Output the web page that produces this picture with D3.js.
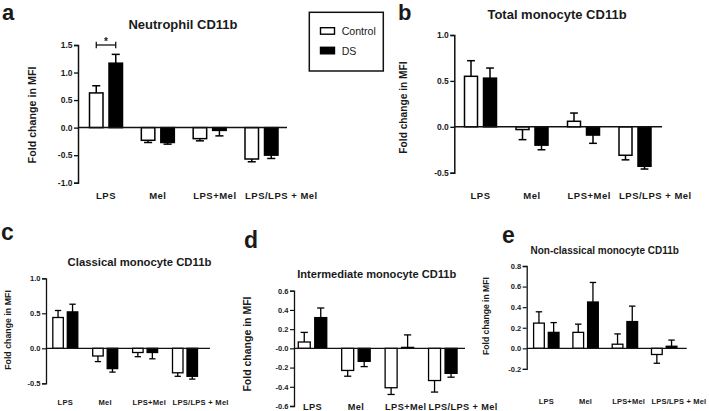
<!DOCTYPE html>
<html><head><meta charset="utf-8">
<script src="https://cdn.jsdelivr.net/npm/d3@7"></script>
<style>
body{margin:0;background:#fff}
svg{display:block}
text{font-family:"Liberation Sans",Arial,sans-serif;fill:#1a1a1a}
</style>
</head><body>
<svg id="chart" width="709" height="411"></svg>
<script>
// ---------- DATA ----------
const categories = ["LPS", "Mel", "LPS+Mel", "LPS/LPS + Mel"];
const seriesNames = ["Control", "DS"];

// a: Neutrophil CD11b
const aControl    = [0.63, -0.23, -0.20, -0.57];
const aControlErr = [0.13, 0.04, 0.04, 0.05];
const aDS         = [1.17, -0.27, -0.05, -0.50];
const aDSErr      = [0.16, 0.03, 0.10, 0.06];
const aTicks      = [-1.0, -0.5, 0, 0.5, 1.0, 1.5];
const aTickLabels = ["-1.0", "-0.5", "0.0", "0.5", "1.0", "1.5"];

// b: Total monocyte CD11b
const bControl    = [0.55, -0.03, 0.06, -0.31];
const bControlErr = [0.17, 0.11, 0.09, 0.05];
const bDS         = [0.53, -0.20, -0.09, -0.43];
const bDSErr      = [0.11, 0.05, 0.09, 0.03];
const bTicks      = [-0.5, 0, 0.5, 1.0];
const bTickLabels = ["-0.5", "0.0", "0.5", "1.0"];

// c: Classical monocyte CD11b
const cControl    = [0.44, -0.11, -0.06, -0.35];
const cControlErr = [0.10, 0.08, 0.06, 0.05];
const cDS         = [0.52, -0.29, -0.06, -0.40];
const cDSErr      = [0.11, 0.05, 0.09, 0.04];
const cTicks      = [-0.5, 0, 0.5, 1.0];
const cTickLabels = ["-0.5", "0.0", "0.5", "1.0"];

// d: Intermediate monocyte CD11b
const dControl    = [0.066, -0.23, -0.41, -0.335];
const dControlErr = [0.10, 0.06, 0.07, 0.12];
const dDS         = [0.32, -0.135, 0.01, -0.26];
const dDSErr      = [0.10, 0.055, 0.13, 0.04];
const dTicks      = [-0.6, -0.4, -0.2, 0, 0.2, 0.4, 0.6];
const dTickLabels = ["-0.6", "-0.4", "-0.2", "-0.0", "0.2", "0.4", "0.6"];

// e: Non-classical monocyte CD11b
const eControl    = [0.245, 0.155, 0.04, -0.06];
const eControlErr = [0.11, 0.08, 0.10, 0.085];
const eDS         = [0.155, 0.45, 0.26, 0.02];
const eDSErr      = [0.095, 0.19, 0.15, 0.06];
const eTicks      = [-0.2, 0, 0.2, 0.4, 0.6, 0.8];
const eTickLabels = ["-0.2", "0.0", "0.2", "0.4", "0.6", "0.8"];

const yLabel = "Fold change in MFI";

// ---------- LAYOUT ----------
const panels = [
  {letter:"a", title:"Neutrophil CD11b", ctl:aControl, ctlErr:aControlErr, ds:aDS, dsErr:aDSErr, ticks:aTicks, tickLabels:aTickLabels,
   ax:78, yR:[182.7,45], cR:[106,261.5], lineEnd:287, barW:13.5, gap:6, sw:1.5, tickFs:8.5,
   title_:{x:183,y:29,fs:13}, ylab:{x:35.5,y:115,fs:10.7}, xlab:{y:199,fs:9.5,ls:0.5}, let:{x:2,y:20,fs:22}, sig:true},
  {letter:"b", title:"Total monocyte CD11b", ctl:bControl, ctlErr:bControlErr, ds:bDS, dsErr:bDSErr, ticks:bTicks, tickLabels:bTickLabels,
   ax:454.3, yR:[172.7,35], cR:[480.5,635], lineEnd:662, barW:13, gap:6, sw:1.5, tickFs:8.5,
   title_:{x:557,y:19,fs:13}, ylab:{x:407,y:107.5,fs:10.2}, xlab:{y:199,fs:9.5,ls:0.5}, let:{x:398,y:20,fs:22}},
  {letter:"c", title:"Classical monocyte CD11b", ctl:cControl, ctlErr:cControlErr, ds:cDS, dsErr:cDSErr, ticks:cTicks, tickLabels:cTickLabels,
   ax:46, yR:[383.3,278.3], cR:[65.3,185], lineEnd:210, barW:10.5, gap:4, sw:1.3, tickFs:7.5,
   title_:{x:139.5,y:266,fs:11.3}, ylab:{x:10.5,y:330,fs:8.8}, xlab:{y:404.5,fs:7.6,ls:0.25}, let:{x:1,y:240,fs:23}},
  {letter:"d", title:"Intermediate monocyte CD11b", ctl:dControl, ctlErr:dControlErr, ds:dDS, dsErr:dDSErr, ticks:dTicks, tickLabels:dTickLabels,
   ax:294, yR:[406,290.7], cR:[312.5,442.8], lineEnd:465, barW:12, gap:4.5, sw:1.3, tickFs:7.5,
   title_:{x:376.7,y:278,fs:11.1}, ylab:{x:250.5,y:344,fs:10.5}, xlab:{y:409.5,fs:9.2,ls:0.4}, let:{x:244,y:247.5,fs:23}},
  {letter:"e", title:"Non-classical monocyte CD11b", ctl:eControl, ctlErr:eControlErr, ds:eDS, dsErr:eDSErr, ticks:eTicks, tickLabels:eTickLabels,
   ax:526.7, yR:[368.9,266], cR:[546.3,664.2], lineEnd:686.7, barW:10.7, gap:4, sw:1.3, tickFs:7.5,
   title_:{x:604.7,y:254,fs:10}, ylab:{x:489,y:316,fs:8.6}, xlab:{y:403.5,fs:7.5,ls:0.2}, let:{x:502,y:243,fs:23}}
];

const svg = d3.select("#chart");

panels.forEach(p => {
  const g = svg.append("g");
  const y = d3.scaleLinear().domain(d3.extent(p.ticks)).range(p.yR);
  const x = d3.scalePoint().domain(categories).range(p.cR);
  const off = d3.scaleOrdinal().domain(seriesNames).range([-(p.gap/2 + p.barW/2), p.gap/2 + p.barW/2]);

  // y axis
  const axis = d3.axisLeft(y).tickValues(p.ticks)
    .tickFormat((d, i) => p.tickLabels[i]).tickSize(4).tickPadding(1.5);
  const ag = g.append("g").attr("transform", `translate(${p.ax},0)`).call(axis);
  ag.select(".domain").attr("stroke", "#111").attr("stroke-width", p.sw);
  ag.selectAll(".tick line").attr("stroke", "#111").attr("stroke-width", p.sw*0.9);
  ag.selectAll(".tick text").attr("font-size", p.tickFs).attr("font-weight", "bold")
    .attr("font-family", "'Liberation Sans',Arial,sans-serif").attr("fill", "#1a1a1a");

  // bars
  const rows = [];
  categories.forEach((c, i) => {
    rows.push({c, s:"Control", v:p.ctl[i], e:p.ctlErr[i]});
    rows.push({c, s:"DS", v:p.ds[i], e:p.dsErr[i]});
  });
  const bx = d => x(d.c) + off(d.s) - p.barW/2;
  g.selectAll("rect.bar").data(rows).join("rect").attr("class", "bar")
    .attr("x", bx).attr("width", p.barW)
    .attr("y", d => Math.min(y(d.v), y(0)))
    .attr("height", d => Math.abs(y(d.v) - y(0)))
    .attr("fill", d => d.s === "Control" ? "#fff" : "#000")
    .attr("stroke", "#000").attr("stroke-width", p.sw);

  // error bars (one-sided)
  const capW = p.barW * 0.6;
  rows.forEach(d => {
    const cx = x(d.c) + off(d.s);
    const end = d.v + (d.v >= 0 ? d.e : -d.e);
    g.append("line").attr("x1", cx).attr("x2", cx).attr("y1", y(d.v)).attr("y2", y(end))
      .attr("stroke", "#000").attr("stroke-width", p.sw);
    g.append("line").attr("x1", cx - capW/2).attr("x2", cx + capW/2).attr("y1", y(end)).attr("y2", y(end))
      .attr("stroke", "#000").attr("stroke-width", p.sw);
  });

  // zero line
  g.append("line").attr("x1", p.ax).attr("x2", p.lineEnd).attr("y1", y(0)).attr("y2", y(0))
    .attr("stroke", "#111").attr("stroke-width", p.sw);

  // x labels
  const bandW = 2*p.barW + p.gap;
  categories.forEach(c => {
    const t = g.append("text").attr("y", p.xlab.y).attr("font-size", p.xlab.fs)
      .attr("font-weight", "bold").attr("letter-spacing", p.xlab.ls).text(c);
    const w = t.node().getComputedTextLength();
    if (w > bandW + 4) t.attr("x", x(c) - bandW/2).attr("text-anchor", "start");
    else t.attr("x", x(c)).attr("text-anchor", "middle");
  });

  // title
  g.append("text").attr("x", p.title_.x).attr("y", p.title_.y).attr("text-anchor", "middle")
    .attr("font-size", p.title_.fs).attr("font-weight", "bold").text(p.title);
  // y label
  g.append("text").attr("transform", `translate(${p.ylab.x},${p.ylab.y}) rotate(-90)`)
    .attr("text-anchor", "middle").attr("font-size", p.ylab.fs).attr("font-weight", "bold").text(yLabel);
  // panel letter
  g.append("text").attr("x", p.let.x).attr("y", p.let.y).attr("font-size", p.let.fs)
    .attr("font-weight", "bold").attr("fill", "#000").text(p.letter);

  // significance bracket
  if (p.sig) {
    const x1 = x(categories[0]) + off("Control"), x2 = x(categories[0]) + off("DS");
    const yb = y(d3.max(p.ticks));
    g.append("line").attr("x1", x1).attr("x2", x2).attr("y1", yb).attr("y2", yb).attr("stroke", "#000").attr("stroke-width", 1.2);
    [x1, x2].forEach(xx => g.append("line").attr("x1", xx).attr("x2", xx).attr("y1", yb - 3.3).attr("y2", yb + 3.3)
      .attr("stroke", "#000").attr("stroke-width", 1.2));
    g.append("text").attr("x", (x1 + x2)/2).attr("y", yb - 0.5).attr("text-anchor", "middle")
      .attr("font-size", 10).attr("font-weight", "bold").text("*");
  }
});

// legend
const lg = svg.append("g");
lg.append("rect").attr("x", 309.3).attr("y", 12.3).attr("width", 74).attr("height", 58.7)
  .attr("fill", "#fff").attr("stroke", "#111").attr("stroke-width", 1.5);
seriesNames.forEach((s, i) => {
  const yy = 27.7 + i * 19.6;
  lg.append("rect").attr("x", 320.5).attr("y", yy).attr("width", 14).attr("height", 6.5)
    .attr("fill", s === "Control" ? "#fff" : "#000").attr("stroke", "#000").attr("stroke-width", 1.4);
  lg.append("text").attr("x", 341.7).attr("y", yy + 7.5).attr("font-size", 10.6).text(s);
});
</script>
</body></html>
